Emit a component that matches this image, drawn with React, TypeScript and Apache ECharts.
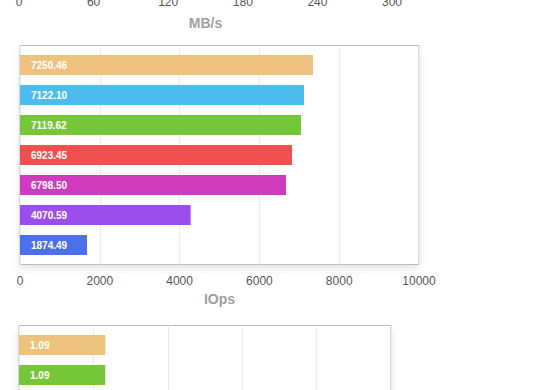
import React, { useEffect, useRef } from "react";
import * as echarts from "echarts";

const FONT = "Liberation Sans";
const SHIFT = 300; // chart canvas starts this many px above the page top

// Top chart (only its axis is visible)
const mbMin = 0;
const mbMax = 300;
const mbInterval = 60;
const mbName = "MB/s";

// Middle chart: IOps
const iopsName = "IOps";
const iopsSeries = ["s1", "s2", "s3", "s4", "s5", "s6", "s7"];
const iopsValues = [7343, 7118, 7043, 6817, 6667, 4278, 1679];
const iopsLabels = ["7250.46", "7122.10", "7119.62", "6923.45", "6798.50", "4070.59", "1874.49"];
const iopsColors = ["#EDC17E", "#4DBBEB", "#76C63A", "#EF5050", "#CF3BBD", "#9B4EEC", "#4C70EC"];
const iopsMax = 10000;
const iopsInterval = 2000;

// Bottom chart
const latSeries = ["s1", "s3"];
const latValues = [1.16, 1.16];
const latLabels = ["1.09", "1.09"];
const latColors = ["#EDC17E", "#76C63A"];
const latMax = 5;
const latInterval = 1;

export default function App() {
  const ref = useRef<HTMLDivElement>(null);
  useEffect(() => {
    if (!ref.current) return;
    const chart = echarts.init(ref.current, null, { renderer: "svg" });
    const gridStyle = {
      show: true,
      backgroundColor: "#fff",
      borderColor: "#bbb",
      borderWidth: 1,
      shadowColor: "rgba(0,0,0,0.10)",
      shadowBlur: 8,
      shadowOffsetY: 4,
      containLabel: false,
    };
    const valueAxisBase = {
      type: "value" as const,
      min: 0,
      axisLine: { show: false },
      axisTick: { show: false },
      splitLine: { show: true, lineStyle: { color: "#ececec" } },
      axisLabel: {
        color: "#555",
        fontSize: 12,
        fontFamily: FONT,
        margin: 10,
        formatter: (v: number) => String(v),
      },
      nameLocation: "middle" as const,
      nameTextStyle: { color: "#a0a0a0", fontSize: 14, fontWeight: "bold" as const, fontFamily: FONT },
    };
    const catAxisBase = {
      type: "category" as const,
      data: [""],
      axisLine: { show: false },
      axisTick: { show: false },
      axisLabel: { show: false },
      splitLine: { show: false },
    };
    const labelStyle = (text: string) => ({
      show: true,
      position: "insideLeft" as const,
      distance: 11,
      color: "#fff",
      fontSize: 10,
      fontWeight: "bold" as const,
      fontFamily: FONT,
      formatter: () => text,
    });
    const series: any[] = [];
    iopsSeries.forEach((name, i) => {
      series.push({
        type: "bar",
        name,
        xAxisIndex: 1,
        yAxisIndex: 1,
        data: [iopsValues[i]],
        barWidth: 20,
        barGap: "50%",
        itemStyle: { color: iopsColors[i] },
        label: labelStyle(iopsLabels[i]),
      });
    });
    latSeries.forEach((name, i) => {
      series.push({
        type: "bar",
        name,
        xAxisIndex: 2,
        yAxisIndex: 2,
        data: [latValues[i]],
        barWidth: 20,
        barGap: "50%",
        itemStyle: { color: latColors[i] },
        label: labelStyle(latLabels[i]),
      });
    });
    chart.setOption({
      animation: false,
      textStyle: { fontFamily: FONT },
      grid: [
        { ...gridStyle, left: 19, width: 373, top: SHIFT - 244, height: 230 },
        { ...gridStyle, left: 20, width: 399, top: SHIFT + 45.5, height: 219 },
        { ...gridStyle, left: 19, width: 372, top: SHIFT + 325.5, height: 69 },
      ],
      xAxis: [
        { ...valueAxisBase, gridIndex: 0, min: mbMin, max: mbMax, interval: mbInterval, name: mbName, nameGap: 30 },
        { ...valueAxisBase, gridIndex: 1, max: iopsMax, interval: iopsInterval, name: iopsName, nameGap: 27 },
        { ...valueAxisBase, gridIndex: 2, max: latMax, interval: latInterval },
      ],
      yAxis: [
        { ...catAxisBase, gridIndex: 0 },
        { ...catAxisBase, gridIndex: 1 },
        { ...catAxisBase, gridIndex: 2 },
      ],
      series,
    });
    return () => chart.dispose();
  }, []);
  return (
    <div style={{ position: "fixed", left: 0, top: 0, width: 560, height: 390, overflow: "hidden", background: "#fff" }}>
      <div
        ref={ref}
        style={{ position: "absolute", left: 0, top: -SHIFT, width: 560, height: 760 }}
      />
    </div>
  );
}
